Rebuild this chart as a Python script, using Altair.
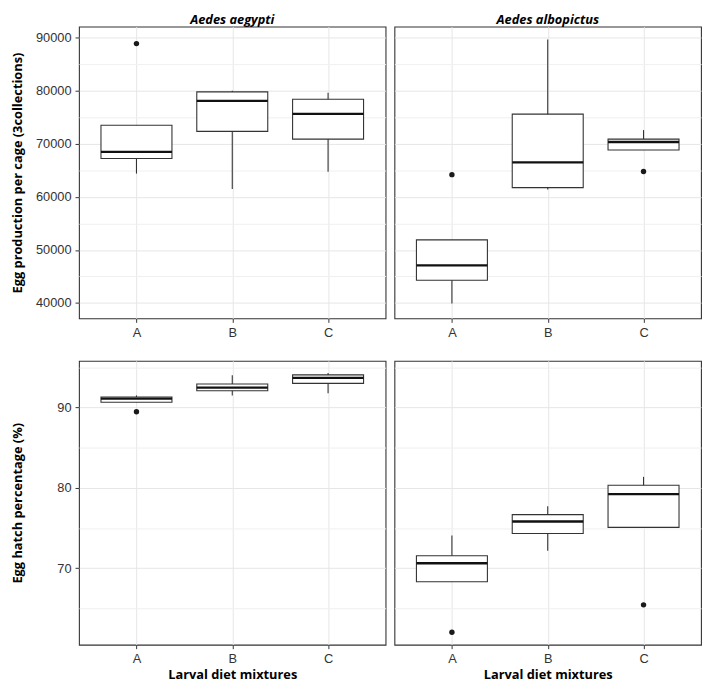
import altair as alt
import pandas as pd

diets = ["A", "B", "C"]
species = ["Aedes aegypti", "Aedes albopictus"]

# Egg production per cage (3 collections) - box statistics
prod_aeg_low = [64400, 61500, 64750]
prod_aeg_q1 = [67250, 72350, 70900]
prod_aeg_med = [68500, 78100, 75650]
prod_aeg_q3 = [73500, 79800, 78400]
prod_aeg_high = [73500, 80000, 79650]
prod_aeg_out_diet = ["A"]
prod_aeg_out_val = [88900]

prod_alb_low = [39900, 61400, 68830]
prod_alb_q1 = [44300, 61750, 68830]
prod_alb_med = [47100, 66500, 70350]
prod_alb_q3 = [51900, 75600, 70900]
prod_alb_high = [51900, 89650, 72600]
prod_alb_out_diet = ["A", "C"]
prod_alb_out_val = [64200, 64800]

# Egg hatch percentage (%)
hatch_aeg_low = [90.64, 91.5, 91.77]
hatch_aeg_q1 = [90.64, 92.07, 92.99]
hatch_aeg_med = [91.09, 92.47, 93.68]
hatch_aeg_q3 = [91.29, 92.92, 94.05]
hatch_aeg_high = [91.5, 94.0, 94.29]
hatch_aeg_out_diet = ["A"]
hatch_aeg_out_val = [89.47]

hatch_alb_low = [68.32, 72.17, 75.09]
hatch_alb_q1 = [68.32, 74.33, 75.09]
hatch_alb_med = [70.63, 75.82, 79.22]
hatch_alb_q3 = [71.57, 76.67, 80.32]
hatch_alb_high = [74.08, 77.73, 81.37]
hatch_alb_out_diet = ["A", "C"]
hatch_alb_out_val = [62.05, 65.46]

prod_domain = [37100, 92100]
prod_ticks = [40000, 45000, 50000, 55000, 60000, 65000, 70000, 75000, 80000, 85000, 90000]
hatch_domain = [60.5, 95.8]
hatch_ticks = [65, 70, 75, 80, 85, 90, 95]

PANEL_W = 311
TOP_H = 296
BOT_H = 288
INK = "#333333"
TITLE_FONT = "Open Sans"


def panel(low, q1, med, q3, high, out_d, out_v, domain, ticks, major, h,
          show_y, y_title, x_title, title):
    df = pd.DataFrame({"diet": diets, "low": low, "q1": q1, "med": med,
                       "q3": q3, "high": high})
    odf = pd.DataFrame({"diet": out_d, "val": out_v})
    test = f"datum.value % {major} === 0"
    xs = alt.Scale(type="point", domain=diets, padding=0.6)
    ys = alt.Scale(domain=domain, nice=False, zero=False)

    x_axis_kw = dict(values=diets, labelAngle=0, tickSize=4, labelPadding=4,
                     grid=True, gridColor="#e6e6e6", domain=False)
    if x_title:
        x_axis_kw.update(title=x_title, titleFont=TITLE_FONT, titleFontSize=13,
                         titleFontWeight="bold", titleColor="black", titlePadding=3)
    else:
        x_axis_kw.update(title=None)
    x_axis = alt.Axis(**x_axis_kw)

    grid_color = {"condition": {"test": test, "value": "#e6e6e6"}, "value": "#f0f0f0"}
    if show_y:
        y_axis = alt.Axis(values=ticks, title=y_title, titleFont=TITLE_FONT,
                          titleFontSize=13, titleFontWeight="bold", titleColor="black",
                          titlePadding=7, minExtent=48, maxExtent=48,
                          labelExpr=f"{test} ? datum.label : ''",
                          tickOpacity={"condition": {"test": test, "value": 1}, "value": 0},
                          tickSize=4, labelPadding=4, grid=True, gridColor=grid_color,
                          domain=False, format="d")
    else:
        y_axis = alt.Axis(values=ticks, title=None, labels=False, ticks=False,
                          domain=False, grid=True, gridColor=grid_color,
                          minExtent=0, maxExtent=0)

    x_enc = alt.X("diet:N", scale=xs, axis=x_axis)
    base = alt.Chart(df)
    whisk = base.mark_rule(color=INK, strokeWidth=1.1).encode(
        x=x_enc, y=alt.Y("low:Q", scale=ys, axis=y_axis), y2="high:Q")
    box = base.mark_bar(size=72, fill="white", stroke=INK, strokeWidth=1.1).encode(
        x=x_enc, y=alt.Y("q1:Q", scale=ys, axis=y_axis), y2="q3:Q")
    median = base.mark_tick(size=72, thickness=2.4, color="#111111", opacity=1).encode(
        x=x_enc, y=alt.Y("med:Q", scale=ys, axis=y_axis))
    outl = alt.Chart(odf).mark_circle(size=30, color="#1a1a1a", opacity=1).encode(
        x=x_enc, y=alt.Y("val:Q", scale=ys, axis=y_axis))
    layer = alt.layer(whisk, box, median, outl).properties(width=PANEL_W, height=h)
    if title:
        layer = layer.properties(title=alt.Title(
            title, font=TITLE_FONT, fontSize=13, fontWeight="bold", fontStyle="italic",
            color="black", offset=0, anchor="middle"))
    return layer


tl = panel(prod_aeg_low, prod_aeg_q1, prod_aeg_med, prod_aeg_q3, prod_aeg_high,
           prod_aeg_out_diet, prod_aeg_out_val, prod_domain, prod_ticks, 10000, TOP_H,
           True, "Egg production per cage (3collections)", None, species[0])
tr = panel(prod_alb_low, prod_alb_q1, prod_alb_med, prod_alb_q3, prod_alb_high,
           prod_alb_out_diet, prod_alb_out_val, prod_domain, prod_ticks, 10000, TOP_H,
           False, None, None, species[1])
bl = panel(hatch_aeg_low, hatch_aeg_q1, hatch_aeg_med, hatch_aeg_q3, hatch_aeg_high,
           hatch_aeg_out_diet, hatch_aeg_out_val, hatch_domain, hatch_ticks, 10, BOT_H,
           True, "Egg hatch percentage (%)", "Larval diet mixtures", None)
br = panel(hatch_alb_low, hatch_alb_q1, hatch_alb_med, hatch_alb_q3, hatch_alb_high,
           hatch_alb_out_diet, hatch_alb_out_val, hatch_domain, hatch_ticks, 10, BOT_H,
           False, None, "Larval diet mixtures", None)

top = alt.hconcat(tl, tr, spacing=7)
bottom = alt.hconcat(bl, br, spacing=7)

chart = alt.vconcat(top, bottom, spacing=20).properties(
    padding={"left": 3, "top": 0, "right": 0, "bottom": 0}, background="white"
).configure_view(
    stroke=INK, strokeWidth=1.1
).configure_axis(
    labelFont="Liberation Sans", labelFontSize=13, labelColor=INK, tickColor=INK,
    tickWidth=1
).configure_concat(spacing=7)

chart.save("out.html", embed_options={"renderer": "svg", "actions": False})
